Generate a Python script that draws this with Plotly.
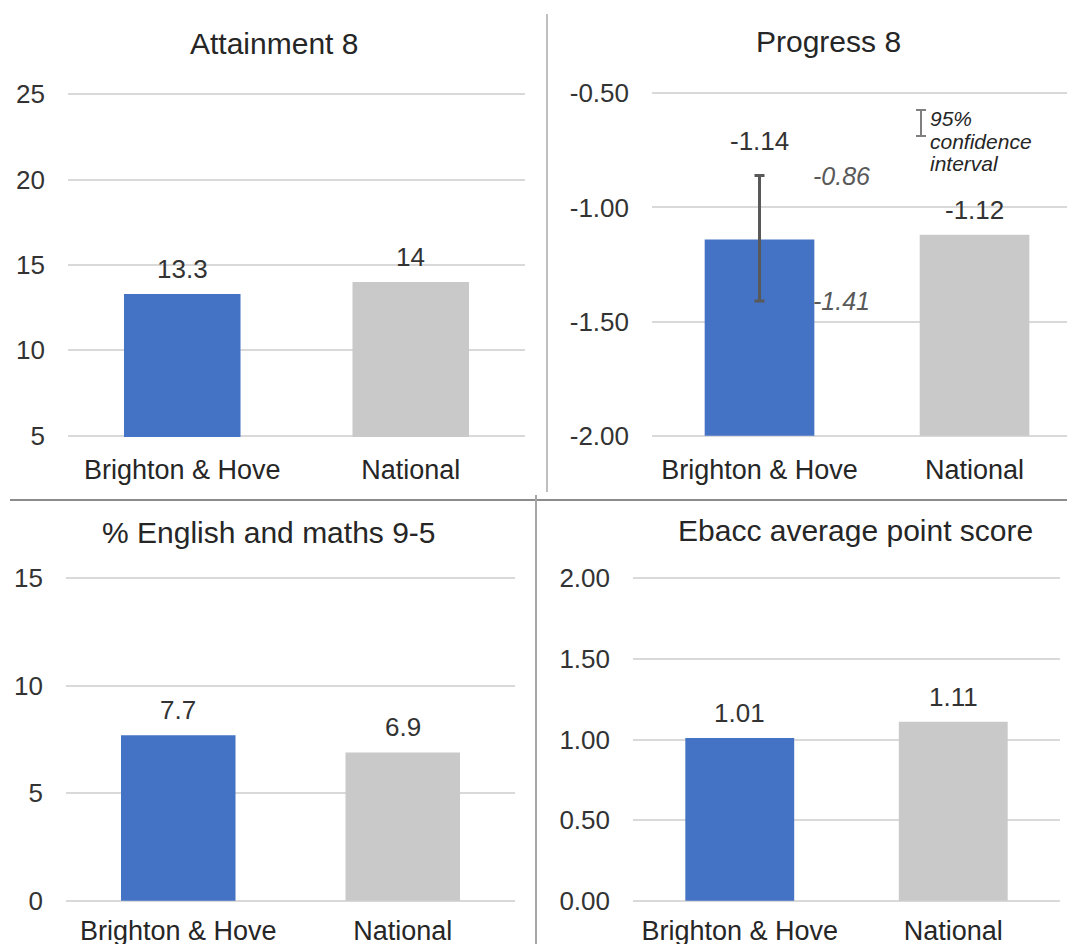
import plotly.graph_objects as go

# ---- data -------------------------------------------------------------
categories = ["Brighton & Hove", "National"]

attainment8 = [13.3, 14]
progress8 = [-1.14, -1.12]
progress8_ci_low = [-1.41, None]
progress8_ci_high = [-0.86, None]
eng_maths_9_5 = [7.7, 6.9]
ebacc_aps = [1.01, 1.11]

panel_titles = [
    "Attainment 8",
    "Progress 8",
    "% English and maths 9-5",
    "Ebacc average point score",
]

# y tick values and their labels for each panel
attainment8_ticks = [5, 10, 15, 20, 25]
progress8_ticks = [-2.0, -1.5, -1.0, -0.5]
eng_maths_ticks = [0, 5, 10, 15]
ebacc_ticks = [0.0, 0.5, 1.0, 1.5, 2.0]
attainment8_ticktext = ["5", "10", "15", "20", "25"]
progress8_ticktext = ["-2.00", "-1.50", "-1.00", "-0.50"]
eng_maths_ticktext = ["0", "5", "10", "15"]
ebacc_ticktext = ["0.00", "0.50", "1.00", "1.50", "2.00"]

# ---- styling ------------------------------------------------------------
W, H = 1067, 944
FONT = "Liberation Sans, Arial, sans-serif"
BAR_COLORS = ["#4472C4", "#C9C9C9"]
TEXT = "#262626"
TICK = "#333333"
GRID = "#D9D9D9"
BAR_WIDTH = 0.51
P8_FLOOR = -2.0


def px_x(px):
    return px / W


def px_y(py):
    return 1 - py / H


fig = go.Figure()

# axis domains (pixels: left, right, top, bottom) per panel
panels = [
    dict(dom=(68, 525, 93, 437), ticks=attainment8_ticks, text=attainment8_ticktext, xr=None),
    dict(dom=(652, 1067, 92, 437), ticks=progress8_ticks, text=progress8_ticktext, xr=[-0.5, 1.43]),
    dict(dom=(66, 515, 577, 902), ticks=eng_maths_ticks, text=eng_maths_ticktext, xr=None),
    dict(dom=(633, 1060, 577, 902), ticks=ebacc_ticks, text=ebacc_ticktext, xr=None),
]

series = [attainment8, progress8, eng_maths_9_5, ebacc_aps]
label_fmt = [lambda v: f"{v:g}", lambda v: f"{v:.2f}", lambda v: f"{v:g}", lambda v: f"{v:.2f}"]

annotations = []
for i, (p, vals) in enumerate(zip(panels, series)):
    n = "" if i == 0 else str(i + 1)
    xa, ya = "x" + n, "y" + n
    if i == 1:
        # bars rise from the bottom of the axis, as the scale is all negative
        fig.add_trace(go.Bar(
            x=categories, y=[v - P8_FLOOR for v in vals], base=[P8_FLOOR] * len(vals),
            marker=dict(color=BAR_COLORS, line=dict(width=0)), width=BAR_WIDTH,
            xaxis=xa, yaxis=ya, showlegend=False, hoverinfo="skip",
        ))
    else:
        fig.add_trace(go.Bar(
            x=categories, y=vals,
            marker=dict(color=BAR_COLORS, line=dict(width=0)), width=BAR_WIDTH,
            xaxis=xa, yaxis=ya, showlegend=False, hoverinfo="skip",
        ))

    l, r, t, b = p["dom"]
    lo, hi = p["ticks"][0], p["ticks"][-1]
    pad = (hi - lo) * 0.004
    layout_x = dict(
        domain=[px_x(l), px_x(r)], anchor=ya, type="category",
        showgrid=False, showline=False, zeroline=False, ticks="",
        tickfont=dict(family=FONT, size=27, color=TEXT),
        ticklabelstandoff=14 if i < 2 else 10, fixedrange=True, automargin=False,
    )
    if p["xr"] is not None:
        layout_x["range"] = p["xr"]
    layout_y = dict(
        domain=[px_y(b), px_y(t)], anchor=xa, range=[lo - pad, hi + pad],
        tickmode="array", tickvals=p["ticks"], ticktext=p["text"],
        showgrid=True, gridcolor=GRID, gridwidth=2, zeroline=False, showline=False,
        ticks="", tickfont=dict(family=FONT, size=26, color=TICK),
        ticklabelstandoff=22, fixedrange=True, automargin=False,
    )
    fig.update_layout(**{"xaxis" + n: layout_x, "yaxis" + n: layout_y})

    # value labels above each bar
    for j, (c, v) in enumerate(zip(categories, vals)):
        y_anchor, shift = v, 25
        if i == 1 and progress8_ci_high[j] is not None:
            y_anchor, shift = progress8_ci_high[j], 35
        annotations.append(dict(
            x=c, y=y_anchor, xref=xa, yref=ya, text=label_fmt[i](v),
            showarrow=False, yshift=shift, yanchor="middle",
            font=dict(family=FONT, size=26, color=TICK),
        ))

# 95% confidence interval on the Progress 8 local figure
ci_plus = [None if h is None else round(h - v, 4) for h, v in zip(progress8_ci_high, progress8)]
ci_minus = [None if lo is None else round(v - lo, 4) for lo, v in zip(progress8_ci_low, progress8)]
fig.add_trace(go.Scatter(
    x=categories[:1], y=progress8[:1], mode="markers",
    marker=dict(size=1, color="rgba(0,0,0,0)"),
    error_y=dict(type="data", symmetric=False, array=ci_plus[:1], arrayminus=ci_minus[:1],
                 color="#595959", thickness=3, width=5),
    xaxis="x2", yaxis="y2", showlegend=False, hoverinfo="skip",
))
for bound in (progress8_ci_high[0], progress8_ci_low[0]):
    annotations.append(dict(
        x=categories[0], y=bound, xref="x2", yref="y2", text=f"<i>{bound:.2f}</i>",
        showarrow=False, xshift=82, yanchor="middle",
        font=dict(family=FONT, size=25, color="#595959"),
    ))

# panel titles
title_pos = [(274, 43), (828, 42), (269, 532), (855, 530)]
for txt, (tx, ty) in zip(panel_titles, title_pos):
    annotations.append(dict(
        x=px_x(tx), y=px_y(ty), xref="paper", yref="paper", text=txt,
        showarrow=False, xanchor="center", yanchor="middle",
        font=dict(family=FONT, size=30, color=TEXT),
    ))

# legend key for the confidence interval
for line_txt, ly in zip(["95%", "confidence", "interval"], [118, 141, 163]):
    annotations.append(dict(
        x=px_x(928), y=px_y(ly), xref="paper", yref="paper", text=f"<i>{line_txt}</i>",
        showarrow=False, xanchor="left", yanchor="middle",
        font=dict(family=FONT, size=21, color="#262626"),
    ))

shapes = []
# small I-beam glyph for the legend key
key_x, key_top, key_bot = 921, 110, 136
for x0, y0, x1, y1 in [(key_x, key_top, key_x, key_bot),
                       (key_x - 5, key_top, key_x + 5, key_top),
                       (key_x - 5, key_bot, key_x + 5, key_bot)]:
    shapes.append(dict(type="line", xref="paper", yref="paper",
                       x0=px_x(x0), y0=px_y(y0), x1=px_x(x1), y1=px_y(y1),
                       line=dict(color="#7F7F7F", width=2)))

# panel separators
shapes += [
    dict(type="line", xref="paper", yref="paper", x0=px_x(547), x1=px_x(547),
         y0=px_y(14), y1=px_y(492), line=dict(color="#BFBFBF", width=2)),
    dict(type="line", xref="paper", yref="paper", x0=px_x(10), x1=1,
         y0=px_y(500), y1=px_y(500), line=dict(color="#8C8C8C", width=2)),
    dict(type="line", xref="paper", yref="paper", x0=px_x(536), x1=px_x(536),
         y0=px_y(495), y1=0, line=dict(color="#A6A6A6", width=2)),
]

fig.update_layout(
    width=W, height=H, margin=dict(l=0, r=0, t=0, b=0, autoexpand=False),
    paper_bgcolor="white", plot_bgcolor="white",
    annotations=annotations, shapes=shapes, showlegend=False,
    font=dict(family=FONT, color=TEXT),
)

fig.write_html("out.html", config={"displayModeBar": False})
